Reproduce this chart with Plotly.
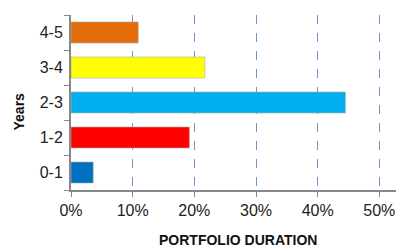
import plotly.graph_objects as go

categories = ["0-1", "1-2", "2-3", "3-4", "4-5"]
values = [0.036, 0.192, 0.445, 0.217, 0.109]
colors = ["#0070C0", "#FF0000", "#00B0F0", "#FFFF00", "#E46C0A"]
x_ticks = [0, 0.1, 0.2, 0.3, 0.4, 0.5]
x_tick_labels = ["0%", "10%", "20%", "30%", "40%", "50%"]

fig = go.Figure()
fig.add_trace(go.Bar(
    y=categories, x=values, orientation="h",
    marker=dict(color=colors, line=dict(color="rgba(170,170,170,0.6)", width=1)),
    width=0.6,
))

fig.update_layout(
    width=404, height=246,
    margin=dict(l=63, r=8, t=7, b=64),
    paper_bgcolor="white", plot_bgcolor="white",
    showlegend=False,
    font=dict(family="Liberation Sans Narrow, Arial Narrow, sans-serif", color="#222", size=16),
    xaxis=dict(
        range=[0, 0.54], tickvals=x_ticks, ticktext=x_tick_labels,
        showgrid=True, gridcolor="#6A95D0", griddash="dash", gridwidth=1,
        showline=True, linecolor="#888", linewidth=2,
        ticks="outside", ticklen=5, tickcolor="#888", tickwidth=1,
        zeroline=False, automargin=False,
    ),
    yaxis=dict(
        type="category", categoryorder="array", categoryarray=categories,
        range=[-0.5, 4.5],
        showline=True, linecolor="#888", linewidth=2,
        ticks="outside", ticklen=5, tickcolor="#888", tickwidth=1,
        tickson="boundaries", showgrid=False, automargin=False,
        ticklabelstandoff=3,
    ),
    annotations=[
        dict(text="<b>PORTFOLIO DURATION</b>", xref="paper", yref="paper",
             x=0.5, y=0, xanchor="center", yanchor="top", yshift=-40,
             showarrow=False,
             font=dict(family="Liberation Sans, Arial, sans-serif", size=14, color="#111")),
        dict(text="<b>Years</b>", xref="paper", yref="paper",
             x=0, y=0.5, xanchor="center", yanchor="middle", xshift=-53, yshift=-9,
             textangle=-90, showarrow=False,
             font=dict(family="Liberation Sans, Arial, sans-serif", size=14, color="#111")),
    ],
)

fig.write_html("out.html")
